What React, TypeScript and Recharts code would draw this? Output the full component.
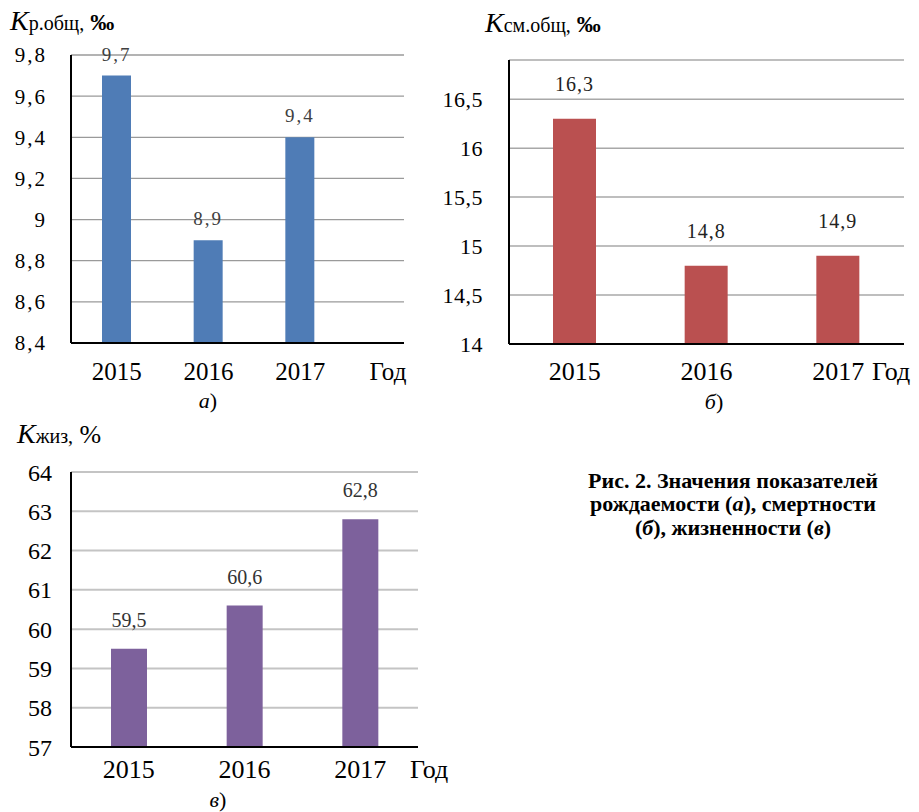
import React from 'react';
import { BarChart, Bar, XAxis, YAxis, CartesianGrid, LabelList } from 'recharts';

const years = ['2015', '2016', '2017'];
const birthRate = [9.7, 8.9, 9.4];
const deathRate = [16.3, 14.8, 14.9];
const vitality = [59.5, 60.6, 62.8];
const birthTicks = [8.4, 8.6, 8.8, 9, 9.2, 9.4, 9.6, 9.8];
const deathTicks = [14, 14.5, 15, 15.5, 16, 16.5];
const vitalityTicks = [57, 58, 59, 60, 61, 62, 63, 64];

const SERIF = 'Liberation Serif';
const fmt = (v: number) => String(v).replace('.', ',');

type PanelProps = {
  values: number[];
  ticks: number[];
  domain: [number, number];
  color: string;
  width: number;
  height: number;
  margin: { top: number; right: number; bottom: number; left: number };
  yWidth: number;
  barSize: number;
  padRight: number;
  yFont: number;
  yMargin: number;
  ySpacing: number;
  xFont: number;
  xMargin: number;
  labelOffset: number;
  labelFont: number;
  labelColor: string;
  labelSpacing: number;
  gridStroke: string;
  gridWidth: number;
};

function Panel(p: PanelProps) {
  const data = years.map((y, i) => ({ year: y, value: p.values[i] }));
  return (
    <BarChart width={p.width} height={p.height} data={data} margin={p.margin}>
      <CartesianGrid vertical={false} stroke={p.gridStroke} strokeWidth={p.gridWidth} />
      <XAxis
        dataKey="year"
        height={40}
        padding={{ left: 0, right: p.padRight }}
        tickLine={false}
        tickSize={0}
        tickMargin={p.xMargin}
        axisLine={{ stroke: '#000', strokeWidth: 2 }}
        tick={{ fill: '#000', fontSize: p.xFont, fontFamily: SERIF }}
      />
      <YAxis
        width={p.yWidth}
        domain={p.domain}
        ticks={p.ticks}
        type="number"
        allowDataOverflow
        tickLine={false}
        tickSize={0}
        tickMargin={p.yMargin}
        tickFormatter={fmt}
        axisLine={{ stroke: '#000', strokeWidth: 2 }}
        tick={{ fill: '#000', fontSize: p.yFont, fontFamily: SERIF, letterSpacing: p.ySpacing }}
      />
      <Bar dataKey="value" fill={p.color} barSize={p.barSize} isAnimationActive={false}>
        <LabelList
          dataKey="value"
          position="top"
          offset={p.labelOffset}
          formatter={(v: any) => fmt(Number(v))}
          style={{ fill: p.labelColor, fontSize: p.labelFont, fontFamily: SERIF, letterSpacing: p.labelSpacing }}
        />
      </Bar>
    </BarChart>
  );
}

export default function App() {
  return (
    <div style={{ position: 'absolute', left: 0, top: 0, width: 919, height: 812, background: '#fff', fontFamily: SERIF }}>
      <div style={{ position: 'absolute', left: 0, top: 0 }}>
        <Panel
          values={birthRate}
          ticks={birthTicks}
          domain={[8.4, 9.8]}
          color="#4F7CB6"
          width={420}
          height={420}
          margin={{ top: 55, right: 16, bottom: 37, left: 0 }}
          yWidth={71}
          barSize={29}
          padRight={58}
          yFont={21}
          yMargin={24}
          ySpacing={2}
          xFont={25}
          xMargin={19}
          labelOffset={15}
          labelFont={19}
          labelColor="#404040"
          labelSpacing={2}
          gridStroke="#9a9a9a"
          gridWidth={1.3}
        />
      </div>
      <div style={{ position: 'absolute', left: 420, top: 0 }}>
        <Panel
          values={deathRate}
          ticks={deathTicks}
          domain={[14, 16.9]}
          color="#BA5050"
          width={499}
          height={420}
          margin={{ top: 60, right: 15, bottom: 36, left: 0 }}
          yWidth={89}
          barSize={43}
          padRight={0}
          yFont={22}
          yMargin={26}
          ySpacing={0.5}
          xFont={26}
          xMargin={18}
          labelOffset={28}
          labelFont={20}
          labelColor="#222"
          labelSpacing={1}
          gridStroke="#a8a8a8"
          gridWidth={1.5}
        />
      </div>
      <div style={{ position: 'absolute', left: 0, top: 420 }}>
        <Panel
          values={vitality}
          ticks={vitalityTicks}
          domain={[57, 64]}
          color="#7D619C"
          width={460}
          height={392}
          margin={{ top: 52, right: 42, bottom: 25, left: 0 }}
          yWidth={71}
          barSize={36}
          padRight={0}
          yFont={24}
          yMargin={19}
          ySpacing={0}
          xFont={26}
          xMargin={13}
          labelOffset={22}
          labelFont={20}
          labelColor="#333"
          labelSpacing={0}
          gridStroke="#c4c4c4"
          gridWidth={2}
        />
      </div>
      <svg
        width={919}
        height={812}
        style={{ position: 'absolute', left: 0, top: 0, pointerEvents: 'none' }}
      >
        <g fontFamily={SERIF} fill="#000">
          <text x={10} y={30}>
            <tspan fontStyle="italic" fontSize={28}>K</tspan>
            <tspan fontSize={20}>р.общ,</tspan>
            <tspan fontSize={24} fontWeight="bold"> ‰</tspan>
          </text>
          <text x={485} y={32}>
            <tspan fontStyle="italic" fontSize={28}>K</tspan>
            <tspan fontSize={20}>см.общ,</tspan>
            <tspan fontSize={24} fontWeight="bold"> ‰</tspan>
          </text>
          <text x={17} y={443}>
            <tspan fontStyle="italic" fontSize={28}>K</tspan>
            <tspan fontSize={20}>жиз,</tspan>
            <tspan fontSize={26}> %</tspan>
          </text>

          <text x={388} y={380} fontSize={25} textAnchor="middle">Год</text>
          <text x={872} y={380} fontSize={26}>Год</text>
          <text x={410} y={778} fontSize={26}>Год</text>

          <text x={208} y={408} fontSize={22} textAnchor="middle">
            <tspan fontStyle="italic">а</tspan>)
          </text>
          <text x={714} y={409} fontSize={22} textAnchor="middle">
            <tspan fontStyle="italic">б</tspan>)
          </text>
          <text x={218} y={807} fontSize={22} textAnchor="middle">
            <tspan fontStyle="italic">в</tspan>)
          </text>

          <g fontWeight="bold" fontSize={22} textAnchor="middle">
            <text x={733} y={488}>Рис. 2. Значения показателей</text>
            <text x={733} y={511}>
              рождаемости (<tspan fontStyle="italic">а</tspan>), смертности
            </text>
            <text x={733} y={535}>
              (<tspan fontStyle="italic">б</tspan>), жизненности (<tspan fontStyle="italic">в</tspan>)
            </text>
          </g>
        </g>
      </svg>
    </div>
  );
}
